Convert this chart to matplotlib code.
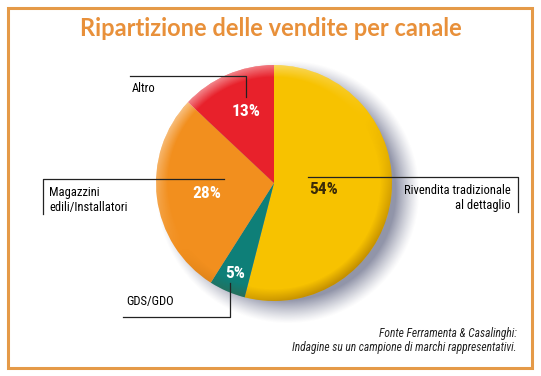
import numpy as np
import matplotlib
matplotlib.use("Agg")
import matplotlib.pyplot as plt
from matplotlib.patches import Circle, Rectangle

# data
canali = ["Rivendita tradizionale\nal dettaglio", "GDS/GDO", "Magazzini\nedili/Installatori", "Altro"]
quote = [54, 5, 28, 13]
colori = ["#F7C200", "#0E7F78", "#F28F1E", "#E8212B"]
colori_pct = ["#3A2A08", "white", "white", "white"]

W, H = 541, 376
NARROW = ["Roboto Condensed", "Archivo Narrow", "PT Sans Narrow", "Liberation Sans Narrow", "DejaVu Sans"]

fig = plt.figure(figsize=(W / 100, H / 100), dpi=100)
ax = fig.add_axes([0, 0, 1, 1])

def Y(y):  # image row -> data y
    return H - y

cx, cy, r = 274, Y(183), 118

# ombra
xx, yy = np.meshgrid(np.linspace(0, W, W), np.linspace(0, H, H))
d = np.hypot(xx - (cx + 14), yy - (cy - 9))
a = np.clip((r + 14 - d) / 24, 0, 1) ** 1.2 * 0.65
sh = np.zeros((H, W, 4))
sh[..., :3] = [0.34, 0.36, 0.48]
sh[..., 3] = a
ax.imshow(sh, extent=(0, W, 0, H), origin="lower", zorder=1)

wedges, _ = ax.pie(quote, colors=colori, startangle=90, counterclock=False,
                   center=(cx, cy), radius=r, frame=True,
                   wedgeprops=dict(linewidth=0))
for w in wedges:
    w.set_zorder(2)

# bordo in rilievo (luce da alto-sinistra)
d0 = np.hypot(xx - cx, yy - cy)
ang = np.arctan2(yy - cy, xx - cx)
rim = np.clip((d0 - (r - 12)) / 12, 0, 1)
luce = np.cos(ang - np.deg2rad(125))
hl = np.zeros((H, W, 4))
hl[..., :3] = 1
hl[..., 3] = rim * np.clip(luce, 0, 1) * 0.45
dk = np.zeros((H, W, 4))
dk[..., :3] = [0.45, 0.25, 0.0]
dk[..., 3] = rim * np.clip(-luce, 0, 1) * 0.4
clip = Circle((cx, cy), r, transform=ax.transData)
for img in (hl, dk):
    im = ax.imshow(img, extent=(0, W, 0, H), origin="lower", zorder=3)
    im.set_clip_path(clip)

ax.set_xlim(0, W)
ax.set_ylim(0, H)
ax.set_aspect("auto")
ax.axis("off")

# cornice
ax.add_patch(Rectangle((8, Y(368)), 524, 360, fill=False, ec="#E59A48", lw=2.2))

ax.text(271, Y(29), "Ripartizione delle vendite per canale", ha="center", va="center",
        fontsize=17, fontweight="bold", color="#E8903A", family=["Lato", "DejaVu Sans"])

# percentuali
pos_pct = [(324, 189), (235, 273), (207, 193), (246, 112)]
for q, (px, py), c in zip(quote, pos_pct, colori_pct):
    ax.text(px, Y(py), f"{q}%", ha="center", va="center", fontsize=12.5,
            fontweight="black", color=c, family=NARROW, zorder=5)

lk = dict(color="#222222", lw=0.9, zorder=5)
fs = 9
# Rivendita
ax.plot([308, 518, 518], [Y(177), Y(177), Y(212)], **lk)
ax.text(511, Y(198), canali[0], ha="right", va="center", fontsize=fs,
        family=NARROW, linespacing=1.15, zorder=5)
# GDS/GDO
ax.plot([123, 230, 230], [Y(317), Y(317), Y(283)], **lk)
ax.text(126, Y(302), canali[1], ha="left", va="center", fontsize=fs, family=NARROW, zorder=5)
# Magazzini
ax.plot([43, 43, 224], [Y(214), Y(179), Y(179)], **lk)
ax.text(49, Y(200), canali[2], ha="left", va="center", fontsize=fs,
        family=NARROW, linespacing=1.15, zorder=5)
# Altro
ax.plot([130, 246, 246], [Y(76), Y(76), Y(97)], **lk)
ax.text(132, Y(88), canali[3], ha="left", va="center", fontsize=fs, family=NARROW, zorder=5)

ax.text(517, Y(341), "Fonte Ferramenta & Casalinghi:\nIndagine su un campione di marchi rappresentativi.",
        ha="right", va="center", fontsize=8.3, style="italic", family=NARROW,
        linespacing=1.1, color="#222222")

fig.savefig("out.png", dpi=100)
